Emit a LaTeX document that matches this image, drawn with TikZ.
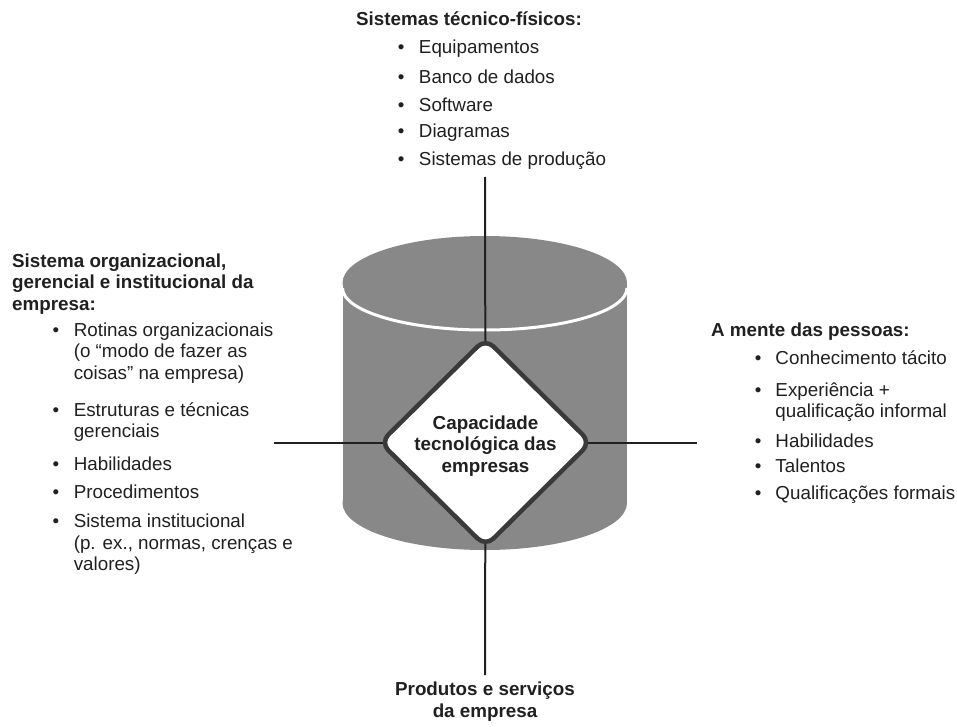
\documentclass[tikz,border=0pt]{standalone}
\usepackage{fontspec}
\setmainfont{Liberation Sans}
\usepackage{xcolor}
\usetikzlibrary{shapes.geometric, backgrounds}
\definecolor{ink}{HTML}{202020}
\definecolor{cylgray}{HTML}{888888}
\definecolor{rimgray}{HTML}{3A3A3A}

\begin{document}
\begin{tikzpicture}[x=1pt, y=-1pt,
  txt/.style={inner sep=0pt, anchor=base west, text=ink, font=\fontsize{18.8}{21.5}\selectfont},
  head/.style={txt, font=\fontsize{18.8}{21.5}\selectfont\bfseries},
  conn/.style={draw=ink, line width=2pt},
  core/.style={diamond, draw=rimgray, line width=4.5pt, fill=white, rounded corners=11pt,
    inner sep=0pt, minimum width=212pt, minimum height=205pt, align=center, text=ink,
    font=\fontsize{18.8}{21.5}\selectfont\bfseries}
]
\useasboundingbox (0,0) rectangle (957,727);

\node[core] (cap) at (485.5,442.5) {\rule{0pt}{20.5pt}Capacidade\\tecnológica das\\empresas};

\coordinate (pt) at (485,177);
\coordinate (pb) at (485,675);
\coordinate (pl) at (274,442.5);
\coordinate (pr) at (697,442.5);

\node[head] (th) at (356,26) {Sistemas técnico-físicos:};
\node[txt] (tl) at (397.7,54) {\begin{tabular}[t]{@{}l@{\hspace{14.5pt}}l@{}}
\textbullet & Equipamentos\\[8.5pt]
\textbullet & Banco de dados\\[6.5pt]
\textbullet & Software\\[4.5pt]
\textbullet & Diagramas\\[6.5pt]
\textbullet & Sistemas de produção
\end{tabular}};

\node[head] (lh) at (12,267) {\begin{tabular}[t]{@{}l@{}}
Sistema organizacional,\\
gerencial e institucional da\\
empresa:
\end{tabular}};
\node[txt] (ll) at (52.5,336) {\begin{tabular}[t]{@{}l@{\hspace{14.5pt}}l@{}}
\textbullet & Rotinas organizacionais\\
 & (o “modo de fazer as\\
 & coisas” na empresa)\\[15.5pt]
\textbullet & Estruturas e técnicas\\
 & gerenciais\\[11.5pt]
\textbullet & Habilidades\\[6.5pt]
\textbullet & Procedimentos\\[7.5pt]
\textbullet & Sistema institucional\\
 & (p. ex., normas, crenças e\\
 & valores)
\end{tabular}};

\node[head] (rh) at (711,336) {A mente das pessoas:};
\node[txt] (rl) at (754.7,364) {\begin{tabular}[t]{@{}l@{\hspace{14pt}}l@{}}
\textbullet & Conhecimento tácito\\[10.5pt]
\textbullet & Experiência +\\
 & qualificação informal\\[8.5pt]
\textbullet & Habilidades\\[3.5pt]
\textbullet & Talentos\\[5.5pt]
\textbullet & Qualificações formais
\end{tabular}};

\node[head, anchor=north, align=center] (bt) at (485,682) {Produtos e serviços\\da empresa};

\begin{scope}[on background layer]
  \fill[cylgray] (342.5,283) rectangle (627,503);
  \fill[cylgray] (484.75,503) ellipse [x radius=142.25, y radius=47];
  \fill[cylgray] (484.75,283) ellipse [x radius=142.25, y radius=47];
  \begin{scope}
    \clip (342.5,230) rectangle (627,560);
    \draw[white, line width=3pt] (342.5,288) arc[start angle=180, end angle=0, x radius=142.25, y radius=42];
  \end{scope}
  \draw[conn] (pt) -- (cap.center) -- (pb);
  \draw[conn] (pl) -- (cap.center) -- (pr);
\end{scope}
\end{tikzpicture}
\end{document}
